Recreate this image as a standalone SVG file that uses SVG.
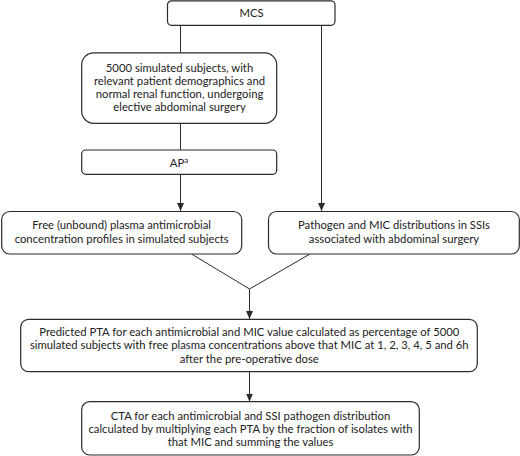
<svg xmlns="http://www.w3.org/2000/svg" width="520" height="456" viewBox="0 0 520 456">
<style>
.box{fill:#fff;stroke:#2b2b2b;stroke-width:1.2}
.t{font-family:Lato,"Noto Sans",sans-serif;font-size:11.3px;fill:#222;text-anchor:middle}
.c{fill:none;stroke:#2b2b2b;stroke-width:1}
</style>
<defs>
<marker id="ah" viewBox="0 0 8 7" refX="8" refY="3.5" markerWidth="8" markerHeight="7" markerUnits="userSpaceOnUse" orient="auto">
<path d="M0,0 L8,3.5 L0,7 Z" fill="#2b2b2b"/>
</marker>
</defs>
<rect width="520" height="456" fill="#fff"/>
<g id="connectors">
<line class="c" x1="180.5" y1="25" x2="180.5" y2="53"/>
<line class="c" x1="180.5" y1="123" x2="180.5" y2="150"/>
<line class="c" x1="180.5" y1="174" x2="180.5" y2="211" marker-end="url(#ah)"/>
<line class="c" x1="321.5" y1="25" x2="321.5" y2="211" marker-end="url(#ah)"/>
<polyline class="c" points="191.5,254 249.5,289 310,254"/>
<line class="c" x1="249.5" y1="289" x2="249.5" y2="319" marker-end="url(#ah)"/>
<line class="c" x1="249.5" y1="372" x2="249.5" y2="401.5" marker-end="url(#ah)"/>
</g>
<g id="mcs">
<rect class="box" x="167.5" y="0.8" width="167.5" height="24.5" rx="4"/>
<text class="t" x="251.5" y="16.5">MCS</text>
</g>
<g id="subjects">
<rect class="box" x="81.7" y="52.8" width="195" height="70.5" rx="12"/>
<text class="t" x="179.5" y="72">5000 simulated subjects, with</text>
<text class="t" x="179.5" y="85">relevant patient demographics and</text>
<text class="t" x="179.5" y="98">normal renal function, undergoing</text>
<text class="t" x="179.5" y="111">elective abdominal surgery</text>
</g>
<g id="ap">
<rect class="box" x="81.7" y="150" width="195" height="24.3" rx="4"/>
<text class="t" x="179" y="166.5">AP<tspan font-size="8" dy="-4">a</tspan></text>
</g>
<g id="free">
<rect class="box" x="1.7" y="211.5" width="240" height="42.5" rx="8"/>
<text class="t" x="121.7" y="229">Free (unbound) plasma antimicrobial</text>
<text class="t" x="121.7" y="242.5">concentration profiles in simulated subjects</text>
</g>
<g id="pathogen">
<rect class="box" x="268.5" y="211.5" width="250.8" height="42.5" rx="8"/>
<text class="t" x="394" y="229">Pathogen and MIC distributions in SSIs</text>
<text class="t" x="394" y="242.5">associated with abdominal surgery</text>
</g>
<g id="pta">
<rect class="box" x="20.7" y="319.3" width="456.6" height="52.4" rx="8"/>
<text class="t" x="249.3" y="335.5">Predicted PTA for each antimicrobial and MIC value calculated as percentage of  5000</text>
<text class="t" x="249.3" y="349">simulated subjects with free plasma concentrations above that MIC at 1, 2, 3, 4, 5 and 6h</text>
<text class="t" x="249.3" y="362.5">after the pre-operative dose</text>
</g>
<g id="cta">
<rect class="box" x="81.7" y="401.7" width="337.6" height="53.3" rx="8"/>
<text class="t" x="250.5" y="419.5">CTA for each antimicrobial and SSI pathogen distribution</text>
<text class="t" x="250.5" y="433">calculated by multiplying each PTA by the fraction of isolates with</text>
<text class="t" x="250.5" y="446">that MIC and summing the values</text>
</g>
</svg>
